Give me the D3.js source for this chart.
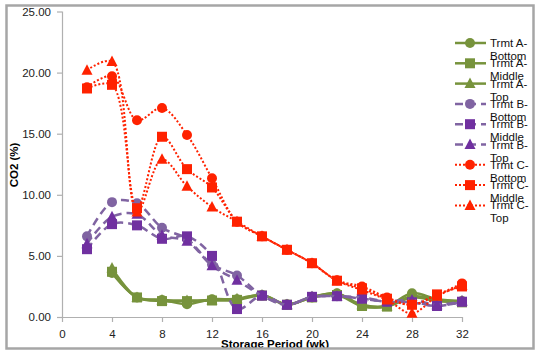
<!DOCTYPE html>
<html><head><meta charset="utf-8">
<script src="https://cdn.jsdelivr.net/npm/d3@7"></script>
<style>html,body{margin:0;padding:0;background:#fff;}svg{display:block;}</style>
</head><body>
<svg id="c" width="540" height="357"></svg>
<script>
const weeks = [2,4,6,8,10,12,14,16,18,20,22,24,26,28,30,32];
const aBottom = [null,3.6,1.6,1.4,1.05,1.45,1.45,1.8,1.05,1.6,1.95,0.9,0.9,1.95,1.45,1.3];
const aMiddle = [null,3.7,1.6,1.3,1.3,1.35,1.4,1.75,1.0,1.6,1.8,0.9,0.85,1.6,1.3,1.2];
const aTop    = [null,4.0,1.6,1.4,1.35,1.4,1.5,1.8,1.0,1.65,1.9,1.0,0.9,1.7,1.4,1.3];
const bBottom = [6.6,9.4,9.3,7.3,6.4,4.3,3.4,1.75,1.0,1.65,1.7,1.5,1.25,1.25,0.9,1.25];
const bMiddle = [5.55,7.6,7.5,6.4,6.6,5.0,0.65,1.75,1.0,1.65,1.7,1.5,1.25,1.2,0.9,1.25];
const bTop    = [6.0,8.2,8.4,6.7,6.2,4.2,3.0,1.75,1.0,1.65,1.7,1.6,1.3,1.4,1.0,1.3];
const cBottom = [18.8,19.7,16.1,17.1,14.9,11.35,7.8,6.6,5.5,4.4,3.0,2.5,1.6,1.0,1.8,2.75];
const cMiddle = [18.7,19.0,8.9,14.75,12.1,10.6,7.8,6.6,5.5,4.4,2.97,2.35,1.5,1.0,1.85,2.5];
const cTop    = [20.2,20.9,8.6,12.9,10.7,9.0,7.8,6.6,5.5,4.4,2.97,2.2,1.4,0.3,1.7,2.6];
const yTicks = [0,5,10,15,20,25];
const xTicks = [0,4,8,12,16,20,24,28,32];
const seriesNames = ["Trmt A-|Bottom","Trmt A-|Middle","Trmt A-|Top","Trmt B-|Bottom","Trmt B-|Middle","Trmt B-|Top","Trmt C-|Bottom","Trmt C-|Middle","Trmt C-|Top"];

const green = "#77933C", purpleL = "#8064A2", purpleD = "#7030A0", red = "#FF2200";
const series = [
  {vals:aBottom, color:green, mcolor:green, shape:"circle", dash:null, w:2.5},
  {vals:aMiddle, color:green, mcolor:green, shape:"square", dash:null, w:2.5},
  {vals:aTop,    color:green, mcolor:green, shape:"triangle", dash:null, w:2.5},
  {vals:bBottom, color:purpleL, mcolor:purpleL, shape:"circle", dash:"8,5", w:2.5},
  {vals:bMiddle, color:purpleL, mcolor:purpleD, shape:"square", dash:"8,5", w:2.5},
  {vals:bTop,    color:purpleL, mcolor:purpleD, shape:"triangle", dash:"8,5", w:2.5},
  {vals:cBottom, color:red, mcolor:red, shape:"circle", dash:"2,2", w:2},
  {vals:cMiddle, color:red, mcolor:red, shape:"square", dash:"2,2", w:2},
  {vals:cTop,    color:red, mcolor:red, shape:"triangle", dash:"2,2", w:2}
];

const svg = d3.select("#c");
const font = "Liberation Sans, Arial, sans-serif";
const x = d3.scaleLinear().domain([0,32]).range([62,462]);
const y = d3.scaleLinear().domain([0,25]).range([317,11.5]);

svg.append("clipPath").attr("id","clipc").append("rect").attr("x",7).attr("y",6).attr("width",525).attr("height",342);
const g = svg.append("g").attr("clip-path","url(#clipc)");

const ya = g.append("g").attr("transform","translate(62,0)")
  .call(d3.axisLeft(y).tickValues(yTicks).tickFormat(d3.format(".2f")).tickSize(5).tickPadding(6));
const xa = g.append("g").attr("transform","translate(0,317)")
  .call(d3.axisBottom(x).tickValues(xTicks).tickFormat(d3.format("d")).tickSize(5).tickPadding(8));
[ya,xa].forEach(a=>{
  a.selectAll("path").attr("stroke","#b0b0b0").attr("stroke-width",1.2);
  a.selectAll("line").attr("stroke","#b0b0b0").attr("stroke-width",1.2);
  a.selectAll("text").attr("font-family",font).attr("font-size",11.5).attr("fill","#222");
});
xa.select("path").attr("d","M62,0.5H462");
ya.select("path").attr("d","M0.5,317V11.5");

g.append("text").attr("transform","translate(18,165) rotate(-90)").attr("text-anchor","middle")
  .attr("font-family",font).attr("font-weight","bold").attr("font-size",11.5).text("CO2 (%)");
g.append("text").attr("x",275).attr("y",347.5).attr("text-anchor","middle")
  .attr("font-family",font).attr("font-weight","bold").attr("font-size",11.5).text("Storage Period (wk)");

function marker(sel, shape, color){
  if(shape==="circle") sel.append("circle").attr("r",5).attr("fill",color);
  else if(shape==="square") sel.append("rect").attr("x",-5).attr("y",-5).attr("width",10).attr("height",10).attr("fill",color);
  else sel.append("path").attr("d","M0,-6L5.5,4.5L-5.5,4.5Z").attr("fill",color);
}

const line = d3.line().defined(d=>d[1]!=null).x(d=>x(d[0])).y(d=>y(d[1])).curve(d3.curveCatmullRom.alpha(0.5));
series.forEach(s=>{
  const pts = weeks.map((w,i)=>[w,s.vals[i]]).filter(d=>d[1]!=null);
  const sg = g.append("g");
  sg.append("path").attr("d",line(pts)).attr("fill","none").attr("stroke",s.color)
    .attr("stroke-width",s.w).attr("stroke-dasharray",s.dash);
  pts.forEach(p=>{
    marker(sg.append("g").attr("transform",`translate(${x(p[0])},${y(p[1])})`), s.shape, s.mcolor);
  });
});

const lg = g.append("g");
series.forEach((s,i)=>{
  const yy = 43 + i*20.3;
  const e = lg.append("g").attr("transform",`translate(0,${yy})`);
  e.append("line").attr("x1",455).attr("x2",486).attr("y1",0).attr("y2",0).attr("stroke",s.color)
    .attr("stroke-width",s.w).attr("stroke-dasharray",s.dash);
  marker(e.append("g").attr("transform","translate(470,0)"), s.shape, s.mcolor);
  const parts = seriesNames[i].split("|");
  const t = e.append("text").attr("x",490).attr("y",4).attr("font-family",font).attr("font-size",11.5).attr("fill","#111");
  t.append("tspan").attr("x",490).attr("dy",0).text(parts[0]);
  t.append("tspan").attr("x",490).attr("dy",13).text(parts[1]);
});

svg.append("rect").attr("x",6.5).attr("y",5.5).attr("width",527).attr("height",343)
  .attr("fill","none").attr("stroke","#a6a6a6").attr("stroke-width",2.5);
</script>
</body></html>
